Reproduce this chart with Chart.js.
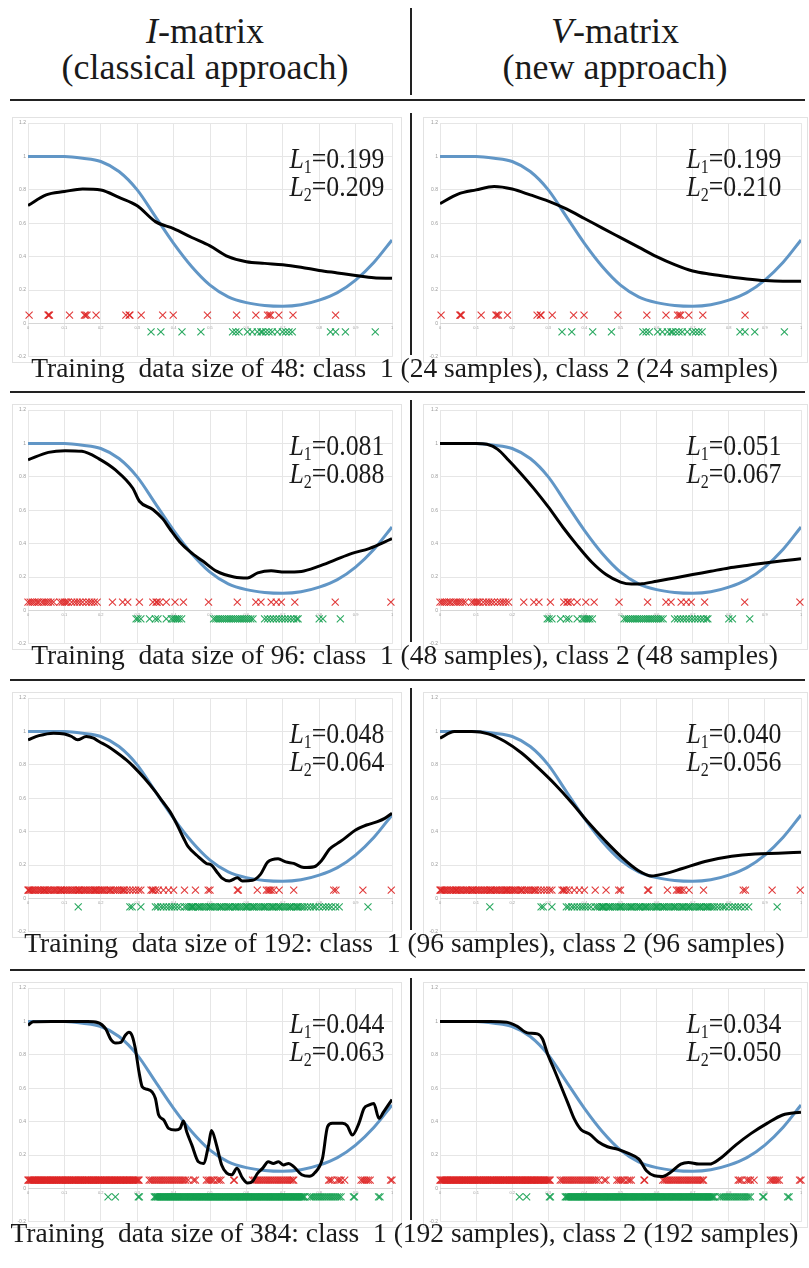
<!DOCTYPE html>
<html><head><meta charset="utf-8">
<script src="https://cdn.jsdelivr.net/npm/chart.js@4.4.0/dist/chart.umd.min.js"></script>
<style>
html,body{margin:0;padding:0;background:#fff;}
#fig{position:relative;width:809px;height:1268px;overflow:hidden;font-family:"Liberation Serif","Times New Roman",serif;color:#1a1a1a;background:#fff;}
.txt{position:absolute;white-space:nowrap;line-height:1;}
.hdr{font-size:36px;text-align:center;width:400px;}
.cap{font-size:27.5px;text-align:center;left:0;width:809px;}
.lab{font-size:30px;text-align:right;transform-origin:right center;transform:scaleX(0.86);}
.lab sub{font-size:0.62em;vertical-align:-0.28em;line-height:0;}
.hl{position:absolute;height:2px;background:#222;}
.vl{position:absolute;width:2px;background:#222;}
.box{position:absolute;border:1px solid #e2e2e2;box-sizing:border-box;pointer-events:none;}
canvas{position:absolute;}
</style></head><body><div id="fig"></div>
<script>
// ---------- data ----------
const trainSizes = [48, 96, 192, 384];
const perClass = [24, 48, 96, 192];
const l1I = ['0.199', '0.081', '0.048', '0.044'];
const l2I = ['0.209', '0.088', '0.064', '0.063'];
const l1V = ['0.199', '0.051', '0.040', '0.034'];
const l2V = ['0.210', '0.067', '0.056', '0.050'];
const yTickLabels = ['-0.2','0','0.2','0.4','0.6','0.8','1','1.2'];

// true function (blue)
const trueX = [0,0.05,0.1,0.15,0.2,0.25,0.3,0.35,0.4,0.45,0.5,0.55,0.6,0.65,0.7,0.75,0.8,0.85,0.9,0.95,1];
const trueY = [1.0,1.0,1.0,0.99,0.97,0.91,0.80,0.64,0.48,0.34,0.23,0.16,0.125,0.108,0.103,0.112,0.14,0.185,0.26,0.365,0.5];

// estimated functions (black)
const est48I_x = [0,0.05,0.1,0.15,0.2,0.25,0.3,0.35,0.4,0.45,0.5,0.55,0.6,0.65,0.7,0.75,0.8,0.85,0.9,0.95,1];
const est48I_y = [0.707,0.77,0.79,0.806,0.80,0.755,0.705,0.61,0.568,0.515,0.465,0.40,0.37,0.36,0.352,0.337,0.318,0.303,0.288,0.274,0.271];
const est48V_x = [0,0.05,0.1,0.15,0.2,0.25,0.3,0.35,0.4,0.45,0.5,0.55,0.6,0.65,0.7,0.75,0.8,0.85,0.9,0.95,1];
const est48V_y = [0.718,0.775,0.80,0.82,0.805,0.77,0.733,0.686,0.629,0.571,0.514,0.457,0.40,0.352,0.314,0.295,0.28,0.267,0.257,0.253,0.253];

const est96I_x = [0,0.056,0.102,0.148,0.195,0.241,0.288,0.306,0.343,0.371,0.39,0.417,0.445,0.482,0.519,0.566,0.603,0.631,0.668,0.705,0.751,0.798,0.844,0.89,0.937,1];
const est96I_y = [0.902,0.947,0.957,0.953,0.908,0.84,0.732,0.654,0.605,0.547,0.488,0.41,0.352,0.293,0.234,0.201,0.195,0.225,0.238,0.23,0.234,0.264,0.303,0.342,0.371,0.43];
const est96V_x = [0,0.05,0.1,0.13,0.16,0.19,0.22,0.26,0.3,0.34,0.38,0.42,0.46,0.5,0.53,0.56,0.6,0.65,0.7,0.75,0.8,0.85,0.9,0.95,1];
const est96V_y = [1.0,1.0,1.0,0.995,0.965,0.9,0.83,0.73,0.62,0.5,0.39,0.29,0.215,0.17,0.158,0.16,0.175,0.195,0.215,0.235,0.255,0.27,0.285,0.298,0.31];

const est192I_x = [0,0.03,0.07,0.1,0.12,0.136,0.16,0.18,0.195,0.22,0.24,0.27,0.29,0.32,0.35,0.37,0.39,0.41,0.43,0.44,0.469,0.49,0.504,0.518,0.532,0.553,0.575,0.589,0.617,0.638,0.659,0.687,0.708,0.73,0.758,0.786,0.807,0.828,0.85,0.87,0.9,0.93,0.96,0.98,1];
const est192I_y = [0.95,0.975,0.99,0.985,0.97,0.95,0.97,0.96,0.94,0.91,0.88,0.83,0.79,0.72,0.64,0.58,0.52,0.44,0.35,0.31,0.248,0.21,0.2,0.162,0.124,0.105,0.124,0.105,0.109,0.143,0.219,0.238,0.219,0.21,0.185,0.19,0.229,0.295,0.33,0.36,0.41,0.44,0.46,0.48,0.51];
const est192V_x = [0,0.04,0.088,0.134,0.18,0.226,0.272,0.319,0.365,0.411,0.457,0.503,0.549,0.586,0.623,0.669,0.734,0.808,0.873,0.937,1];
const est192V_y = [0.96,1.0,1.0,0.986,0.94,0.871,0.782,0.683,0.574,0.455,0.347,0.248,0.168,0.135,0.149,0.178,0.222,0.253,0.267,0.271,0.277];

const est384I_x = [0,0.014,0.064,0.109,0.164,0.191,0.214,0.227,0.241,0.255,0.268,0.277,0.286,0.295,0.305,0.314,0.327,0.341,0.35,0.359,0.373,0.386,0.405,0.418,0.427,0.436,0.45,0.468,0.482,0.496,0.504,0.518,0.532,0.546,0.56,0.574,0.589,0.603,0.617,0.631,0.645,0.66,0.674,0.688,0.702,0.716,0.73,0.752,0.773,0.787,0.809,0.823,0.836,0.864,0.877,0.891,0.909,0.923,0.936,0.95,0.964,0.977,1];
const est384I_y = [0.978,0.998,1.0,1.0,1.0,0.994,0.954,0.895,0.871,0.875,0.919,0.935,0.915,0.836,0.697,0.608,0.594,0.578,0.539,0.44,0.41,0.36,0.35,0.36,0.404,0.34,0.261,0.16,0.15,0.259,0.347,0.259,0.141,0.092,0.082,0.122,0.063,0.033,0.043,0.092,0.122,0.16,0.15,0.16,0.141,0.15,0.131,0.082,0.073,0.092,0.18,0.37,0.39,0.39,0.376,0.32,0.39,0.479,0.499,0.509,0.42,0.459,0.533];
const est384V_x = [0,0.082,0.139,0.185,0.213,0.242,0.27,0.284,0.298,0.316,0.335,0.354,0.373,0.391,0.415,0.438,0.464,0.493,0.522,0.551,0.572,0.594,0.616,0.638,0.667,0.688,0.717,0.746,0.775,0.819,0.862,0.906,0.949,1];
const est384V_y = [1.0,1.0,1.0,0.996,0.972,0.932,0.926,0.895,0.805,0.714,0.614,0.513,0.412,0.352,0.325,0.28,0.25,0.234,0.21,0.176,0.106,0.076,0.072,0.096,0.146,0.156,0.146,0.146,0.178,0.26,0.33,0.39,0.44,0.457];

// training samples: class 1 (red, drawn at 0.05) and class 2 (green, drawn at -0.05)
const class1_48 = [0.003,0.055,0.057,0.059,0.114,0.155,0.158,0.162,0.187,0.269,0.278,0.28,0.311,0.37,0.399,0.493,0.573,0.626,0.658,0.663,0.667,0.689,0.728,0.845];
const class2_48 = [0.338,0.365,0.423,0.475,0.562,0.571,0.58,0.603,0.616,0.63,0.64,0.644,0.653,0.662,0.671,0.685,0.699,0.708,0.717,0.726,0.831,0.845,0.872,0.954];

const class1_96 = [0,0.006,0.012,0.018,0.025,0.03,0.038,0.044,0.05,0.056,0.063,0.07,0.088,0.094,0.1,0.105,0.11,0.12,0.128,0.135,0.142,0.15,0.16,0.168,0.175,0.182,0.19,0.232,0.26,0.274,0.306,0.343,0.352,0.355,0.362,0.38,0.404,0.427,0.496,0.575,0.626,0.64,0.668,0.682,0.696,0.733,0.844,0.997];
const class2_96 = [0.297,0.302,0.31,0.334,0.35,0.357,0.38,0.394,0.4,0.405,0.41,0.415,0.422,0.51,0.516,0.522,0.528,0.534,0.54,0.546,0.552,0.558,0.564,0.57,0.576,0.582,0.588,0.594,0.6,0.606,0.612,0.618,0.65,0.658,0.666,0.674,0.682,0.69,0.698,0.706,0.714,0.722,0.73,0.738,0.742,0.8,0.81,0.858];

const class1_192 = [0,0.002,0.004,0.008,0.012,0.016,0.02,0.025,0.03,0.034,0.038,0.043,0.045,0.047,0.052,0.056,0.06,0.065,0.07,0.074,0.078,0.083,0.088,0.09,0.092,0.097,0.101,0.106,0.11,0.115,0.12,0.124,0.129,0.133,0.138,0.14,0.142,0.147,0.152,0.156,0.16,0.165,0.17,0.174,0.179,0.183,0.185,0.188,0.193,0.197,0.202,0.206,0.21,0.216,0.222,0.226,0.228,0.235,0.24,0.246,0.252,0.258,0.262,0.265,0.272,0.28,0.288,0.296,0.304,0.31,0.338,0.342,0.344,0.35,0.358,0.372,0.386,0.4,0.43,0.46,0.495,0.5,0.575,0.578,0.63,0.655,0.66,0.664,0.668,0.675,0.69,0.73,0.84,0.846,0.92,0.998];
const class2_192 = [0.138,0.28,0.286,0.31,0.35,0.356,0.365,0.372,0.38,0.388,0.395,0.402,0.41,0.418,0.43,0.436,0.442,0.448,0.45,0.454,0.46,0.466,0.47,0.472,0.478,0.484,0.49,0.496,0.5,0.502,0.508,0.514,0.52,0.526,0.53,0.532,0.538,0.544,0.55,0.556,0.562,0.568,0.57,0.574,0.58,0.586,0.592,0.598,0.6,0.604,0.61,0.616,0.62,0.622,0.628,0.634,0.64,0.646,0.65,0.652,0.658,0.664,0.67,0.676,0.682,0.688,0.69,0.694,0.7,0.706,0.712,0.718,0.72,0.724,0.73,0.736,0.74,0.742,0.748,0.754,0.76,0.768,0.776,0.784,0.79,0.8,0.81,0.818,0.826,0.834,0.845,0.855,0.934,0.452,0.672,0.552];

const class1_384 = [0,0.002,0.005,0.007,0.01,0.012,0.015,0.017,0.02,0.022,0.025,0.028,0.03,0.033,0.035,0.038,0.04,0.043,0.045,0.048,0.05,0.053,0.055,0.058,0.061,0.063,0.066,0.068,0.071,0.073,0.076,0.078,0.081,0.084,0.086,0.089,0.091,0.094,0.096,0.099,0.102,0.104,0.107,0.109,0.112,0.114,0.117,0.12,0.122,0.125,0.127,0.13,0.132,0.135,0.138,0.14,0.143,0.145,0.148,0.15,0.153,0.156,0.158,0.161,0.163,0.166,0.168,0.171,0.174,0.176,0.179,0.181,0.184,0.186,0.189,0.192,0.194,0.197,0.199,0.202,0.204,0.207,0.21,0.212,0.215,0.217,0.22,0.223,0.225,0.228,0.23,0.233,0.236,0.238,0.241,0.243,0.246,0.249,0.251,0.254,0.256,0.259,0.262,0.264,0.267,0.27,0.272,0.275,0.278,0.28,0.283,0.286,0.289,0.291,0.294,0.297,0.3,0.303,0.305,0.333,0.338,0.343,0.348,0.353,0.358,0.363,0.368,0.373,0.378,0.383,0.388,0.393,0.398,0.403,0.408,0.413,0.418,0.423,0.428,0.433,0.44,0.455,0.46,0.49,0.495,0.5,0.505,0.51,0.52,0.525,0.53,0.565,0.567,0.617,0.622,0.627,0.632,0.637,0.642,0.647,0.652,0.657,0.662,0.667,0.672,0.677,0.682,0.687,0.692,0.697,0.702,0.707,0.712,0.717,0.722,0.727,0.73,0.826,0.83,0.835,0.85,0.855,0.86,0.87,0.915,0.92,0.925,0.93,0.935,0.94,0.996,1.0];
const class2_384 = [0.22,0.24,0.303,0.306,0.347,0.35,0.352,0.355,0.357,0.36,0.362,0.365,0.367,0.37,0.372,0.375,0.377,0.38,0.382,0.385,0.387,0.39,0.392,0.395,0.397,0.4,0.402,0.405,0.407,0.41,0.412,0.415,0.417,0.42,0.422,0.425,0.427,0.43,0.432,0.435,0.437,0.44,0.442,0.445,0.447,0.45,0.452,0.455,0.457,0.46,0.462,0.465,0.467,0.47,0.472,0.475,0.477,0.48,0.482,0.485,0.487,0.49,0.492,0.495,0.497,0.5,0.502,0.505,0.507,0.51,0.512,0.515,0.517,0.52,0.522,0.525,0.527,0.53,0.532,0.535,0.537,0.54,0.542,0.545,0.547,0.55,0.552,0.555,0.557,0.56,0.562,0.565,0.567,0.57,0.572,0.575,0.577,0.58,0.582,0.585,0.587,0.59,0.592,0.595,0.597,0.6,0.602,0.605,0.607,0.61,0.612,0.615,0.617,0.62,0.622,0.625,0.627,0.63,0.632,0.635,0.637,0.64,0.642,0.645,0.647,0.65,0.652,0.655,0.657,0.66,0.662,0.665,0.667,0.67,0.672,0.675,0.677,0.68,0.682,0.685,0.687,0.69,0.692,0.695,0.697,0.7,0.702,0.705,0.707,0.71,0.712,0.715,0.717,0.72,0.722,0.725,0.727,0.73,0.732,0.735,0.737,0.74,0.742,0.745,0.747,0.75,0.752,0.755,0.757,0.76,0.775,0.78,0.785,0.79,0.795,0.8,0.805,0.81,0.815,0.82,0.825,0.83,0.835,0.84,0.845,0.85,0.855,0.86,0.894,0.897,0.963,0.967];

// ---------- layout / drawing ----------
const rows = [
  {estI:[est48I_x,est48I_y], estV:[est48V_x,est48V_y], c1:class1_48, c2:class2_48},
  {estI:[est96I_x,est96I_y], estV:[est96V_x,est96V_y], c1:class1_96, c2:class2_96},
  {estI:[est192I_x,est192I_y], estV:[est192V_x,est192V_y], c1:class1_192, c2:class2_192},
  {estI:[est384I_x,est384I_y], estV:[est384V_x,est384V_y], c1:class1_384, c2:class2_384}
];
const rowTop = [123, 410, 698, 988];   // pixel of the 1.2 gridline
const PLOT_H = 236;
const cols = [
  {boxL:12, boxR:402, plotL:28, plotR:392, labR:384},
  {boxL:423, boxR:808, plotL:440, plotR:801, labR:781}
];
const fig = document.getElementById('fig');
function el(cls, css, html){const d=document.createElement('div');d.className=cls;Object.assign(d.style,css);if(html!==undefined)d.innerHTML=html;fig.appendChild(d);return d;}

// header
el('txt hdr',{left:'5px',top:'13px'},'<i>I</i>-matrix');
el('txt hdr',{left:'5px',top:'49px'},'(classical approach)');
el('txt hdr',{left:'415px',top:'13px'},'<i>V</i>-matrix');
el('txt hdr',{left:'415px',top:'49px'},'(new approach)');
el('vl',{left:'410px',top:'8px',height:'87px'});
el('hl',{left:'10px',top:'99px',width:'795px'});

function fmt(v){return String(Math.round(v*10)/10);}

function makePanel(col, r, est, c1, c2){
  const top = rowTop[r] - 6;
  const W = col.boxR - col.boxL, H = PLOT_H + 10;
  const cv = document.createElement('canvas');
  cv.width = W; cv.height = H;
  cv.style.left = col.boxL+'px'; cv.style.top = top+'px';
  cv.style.width = W+'px'; cv.style.height = H+'px';
  fig.appendChild(cv);
  el('box',{left:col.boxL+'px',top:top+'px',width:W+'px',height:H+'px'});
  const pts = (xs, ys) => xs.map((x,i)=>({x:x, y:ys[i]}));
  new Chart(cv.getContext('2d'), {
    type:'line',
    data:{datasets:[
      {data:pts(est[0],est[1]), borderColor:'#000', borderWidth:3, pointRadius:0, cubicInterpolationMode:'monotone', fill:false},
      {data:pts(trueX,trueY), borderColor:'#6196c6', borderWidth:3, pointRadius:0, cubicInterpolationMode:'monotone', fill:false},
      {data:c1.map(x=>({x:x,y:0.05})), showLine:false, pointStyle:'crossRot', pointRadius:5, pointBorderWidth:1.1, borderColor:'rgba(222,38,38,0.9)', backgroundColor:'rgba(0,0,0,0)', clip:false},
      {data:c2.map(x=>({x:x,y:-0.05})), showLine:false, pointStyle:'crossRot', pointRadius:5, pointBorderWidth:1.1, borderColor:'rgba(20,160,80,0.9)', backgroundColor:'rgba(0,0,0,0)', clip:false}
    ]},
    options:{
      responsive:false, animation:false, devicePixelRatio:1, events:[],
      layout:{padding:{top:6,bottom:4,left:0,right:col.boxR-col.plotR}},
      plugins:{legend:{display:false}, tooltip:{enabled:false}},
      scales:{
        y:{type:'linear', min:-0.2, max:1.2, position:'left',
           afterFit:(s)=>{s.width = col.plotL - col.boxL;},
           ticks:{stepSize:0.2, font:{size:5, family:'Liberation Sans'}, color:'#9a9a9a', padding:2,
                  callback:(v)=>{const s=fmt(v);return yTickLabels.includes(s)?s:'';}},
           grid:{color:'#e6e6e6', lineWidth:1, drawTicks:false}, border:{display:false}},
        x:{type:'linear', min:0, max:1, position:{y:0},
           ticks:{stepSize:0.1, font:{size:4, family:'Liberation Sans'}, color:'#a0a0a0', padding:2, maxRotation:0, autoSkip:false, callback:(v)=>fmt(v)},
           grid:{color:'#e6e6e6', lineWidth:1, drawTicks:false}, border:{display:true,color:'#d6d6d6'}}
      }
    }
  });
}

rows.forEach((row, r)=>{
  makePanel(cols[0], r, row.estI, row.c1, row.c2);
  makePanel(cols[1], r, row.estV, row.c1, row.c2);
  const t = rowTop[r];
  el('txt lab',{right:(809-cols[0].labR)+'px',top:(t+20)+'px'},'<i>L</i><sub>1</sub>='+l1I[r]);
  el('txt lab',{right:(809-cols[0].labR)+'px',top:(t+48)+'px'},'<i>L</i><sub>2</sub>='+l2I[r]);
  el('txt lab',{right:(809-cols[1].labR)+'px',top:(t+20)+'px'},'<i>L</i><sub>1</sub>='+l1V[r]);
  el('txt lab',{right:(809-cols[1].labR)+'px',top:(t+48)+'px'},'<i>L</i><sub>2</sub>='+l2V[r]);
  el('vl',{left:'410px',top:(t-10)+'px',height:'242px'});
  el('txt cap',{top:(t+231)+'px'},'Training&nbsp; data size of '+trainSizes[r]+': class&nbsp; 1 ('+perClass[r]+' samples), class 2 ('+perClass[r]+' samples)');
  if(r<3) el('hl',{left:'10px',top:(rowTop[r+1]-19)+'px',width:'795px'});
});
</script>
</body></html>
